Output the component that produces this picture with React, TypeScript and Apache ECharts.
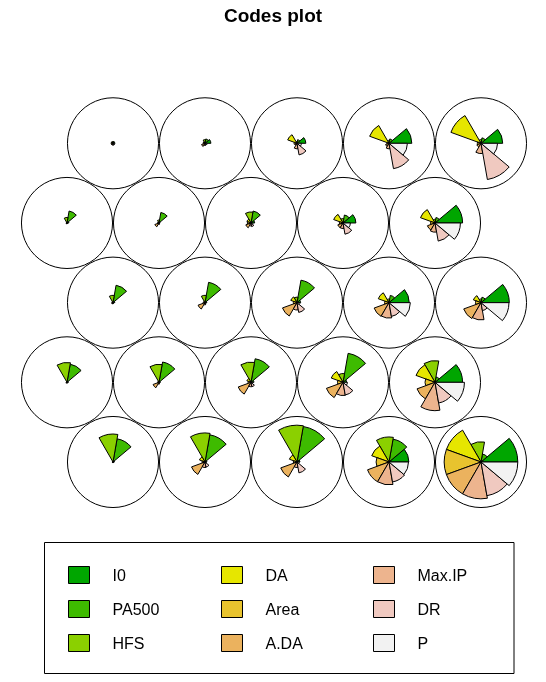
import React, { useEffect, useRef } from "react";
import * as echarts from "echarts";

// Variable names and colours (terrain palette)
const variables = ["I0", "PA500", "HFS", "DA", "Area", "A.DA", "Max.IP", "DR", "P"];
const colors = ["#00A600", "#3EBB00", "#8BD000", "#E6E600", "#E8C32E", "#EBB25E", "#EDB48E", "#F0C9C0", "#F2F2F2"];

// Scaled codebook values (0..1) for the 25 units, rows from top, left to right
const I0 = [0.05, 0.16, 0.24, 0.62, 0.59, 0.05, 0.03, 0.1, 0.35, 0.75, 0.05, 0.05, 0.1, 0.55, 0.77, 0.04, 0.04, 0.08, 0.1, 0.75, 0.04, 0.05, 0.08, 0.54, 1.0];
const PA500 = [0.05, 0.12, 0.1, 0.12, 0.15, 0.33, 0.29, 0.33, 0.22, 0.15, 0.48, 0.56, 0.62, 0.2, 0.15, 0.5, 0.56, 0.65, 0.8, 0.15, 0.64, 0.75, 0.98, 0.63, 0.22];
const HFS = [0.05, 0.1, 0.05, 0.08, 0.1, 0.15, 0.08, 0.3, 0.12, 0.1, 0.2, 0.2, 0.15, 0.1, 0.1, 0.54, 0.49, 0.55, 0.24, 0.59, 0.76, 0.79, 1.0, 0.68, 0.55];
const DA = [0.05, 0.05, 0.27, 0.56, 0.87, 0.02, 0.03, 0.12, 0.27, 0.42, 0.03, 0.04, 0.18, 0.31, 0.22, 0.02, 0.03, 0.12, 0.34, 0.55, 0.02, 0.16, 0.22, 0.5, 1.0];
const Area = [0.05, 0.05, 0.08, 0.06, 0.1, 0.02, 0.04, 0.1, 0.1, 0.12, 0.03, 0.05, 0.1, 0.12, 0.15, 0.02, 0.04, 0.08, 0.15, 0.27, 0.02, 0.08, 0.1, 0.35, 1.0];
const ADA = [0.05, 0.1, 0.06, 0.1, 0.12, 0.03, 0.12, 0.15, 0.15, 0.22, 0.04, 0.2, 0.42, 0.43, 0.5, 0.03, 0.17, 0.37, 0.48, 0.52, 0.02, 0.39, 0.47, 0.62, 1.0];
const MaxIP = [0.05, 0.06, 0.15, 0.15, 0.28, 0.02, 0.04, 0.08, 0.15, 0.25, 0.03, 0.06, 0.2, 0.42, 0.47, 0.02, 0.05, 0.12, 0.36, 0.77, 0.02, 0.15, 0.15, 0.62, 1.0];
const DR = [0.05, 0.05, 0.32, 0.7, 1.0, 0.02, 0.03, 0.1, 0.31, 0.5, 0.02, 0.04, 0.27, 0.38, 0.22, 0.02, 0.03, 0.12, 0.35, 0.57, 0.02, 0.14, 0.3, 0.55, 0.93];
const P = [0.05, 0.06, 0.12, 0.5, 0.45, 0.02, 0.02, 0.05, 0.2, 0.69, 0.02, 0.03, 0.08, 0.58, 0.76, 0.02, 0.02, 0.05, 0.12, 0.8, 0.02, 0.04, 0.06, 0.53, 1.0];

const values = [I0, PA500, HFS, DA, Area, ADA, MaxIP, DR, P];

const XDIM = 5;
const YDIM = 5;
const H = Math.sqrt(3) / 2;

function unitPos(i: number): [number, number] {
  const r = Math.floor(i / XDIM);
  const c = i % XDIM;
  return [c + (r % 2 === 0 ? 0.5 : 0), (YDIM - 1 - r) * H];
}

export default function App() {
  const ref = useRef<HTMLDivElement>(null);
  useEffect(() => {
    if (!ref.current) return;
    const chart = echarts.init(ref.current, null, { renderer: "svg" });
    const nUnits = XDIM * YDIM;
    const circleData = Array.from({ length: nUnits }, (_, i) => unitPos(i));
    const step = (2 * Math.PI) / variables.length;
    const varSeries = variables.map((name, k) => ({
      type: "custom",
      name,
      coordinateSystem: "cartesian2d",
      itemStyle: { color: colors[k], borderColor: "#000", borderWidth: 1 },
      data: values[k].map((v, i) => {
        const [x, y] = unitPos(i);
        return [x, y, v];
      }),
      renderItem: (params: any, api: any) => {
        const c = api.coord([api.value(0), api.value(1)]);
        const u = api.size([1, 0])[0];
        const r = 0.4 * api.value(2) * u;
        return {
          type: "sector",
          shape: {
            cx: c[0],
            cy: c[1],
            r0: 0,
            r,
            startAngle: -(k + 1) * step,
            endAngle: -k * step,
            clockwise: true,
          },
          style: { fill: colors[k], stroke: "#000", lineWidth: 1 },
        };
      },
      z: 3,
      silent: true,
    }));
    const legendCommon = {
      orient: "vertical",
      top: 566,
      itemWidth: 21,
      itemHeight: 17,
      itemGap: 16,
      padding: 0,
      icon: "rect",
      selectedMode: false,
      itemStyle: { borderColor: "#000", borderWidth: 1 },
      textStyle: { fontSize: 16, color: "#000", fontFamily: "Liberation Sans, Arial, sans-serif", padding: [0, 0, 0, 18] },
    };
    chart.setOption({
      animation: false,
      title: {
        text: "Codes plot",
        left: "center",
        top: 1,
        textStyle: { fontSize: 19, fontWeight: "bold", color: "#000", fontFamily: "Liberation Sans, Arial, sans-serif" },
      },
      grid: { left: 21, top: 97.3, width: 506, height: 410.7 },
      xAxis: { type: "value", min: -0.5, max: 5, show: false, splitLine: { show: false } },
      yAxis: { type: "value", min: -0.5, max: (YDIM - 1) * H + 0.5, show: false, splitLine: { show: false } },
      legend: [
        { ...legendCommon, left: 68, data: variables.slice(0, 3) },
        { ...legendCommon, left: 221, data: variables.slice(3, 6) },
        { ...legendCommon, left: 373, data: variables.slice(6, 9) },
      ],
      graphic: [
        {
          type: "rect",
          shape: { x: 44.5, y: 542.5, width: 469.5, height: 131 },
          style: { fill: "none", stroke: "#000", lineWidth: 1 },
        },
      ],
      series: [
        {
          type: "custom",
          name: "units",
          coordinateSystem: "cartesian2d",
          data: circleData,
          silent: true,
          z: 1,
          renderItem: (params: any, api: any) => {
            const c = api.coord([api.value(0), api.value(1)]);
            const u = api.size([1, 0])[0];
            return {
              type: "circle",
              shape: { cx: c[0], cy: c[1], r: 0.495 * u },
              style: { fill: "none", stroke: "#000", lineWidth: 1 },
            };
          },
        },
        ...varSeries,
      ],
    });
    return () => chart.dispose();
  }, []);
  return <div ref={ref} style={{ position: "fixed", left: 0, top: 0, width: 546, height: 682 }} />;
}
